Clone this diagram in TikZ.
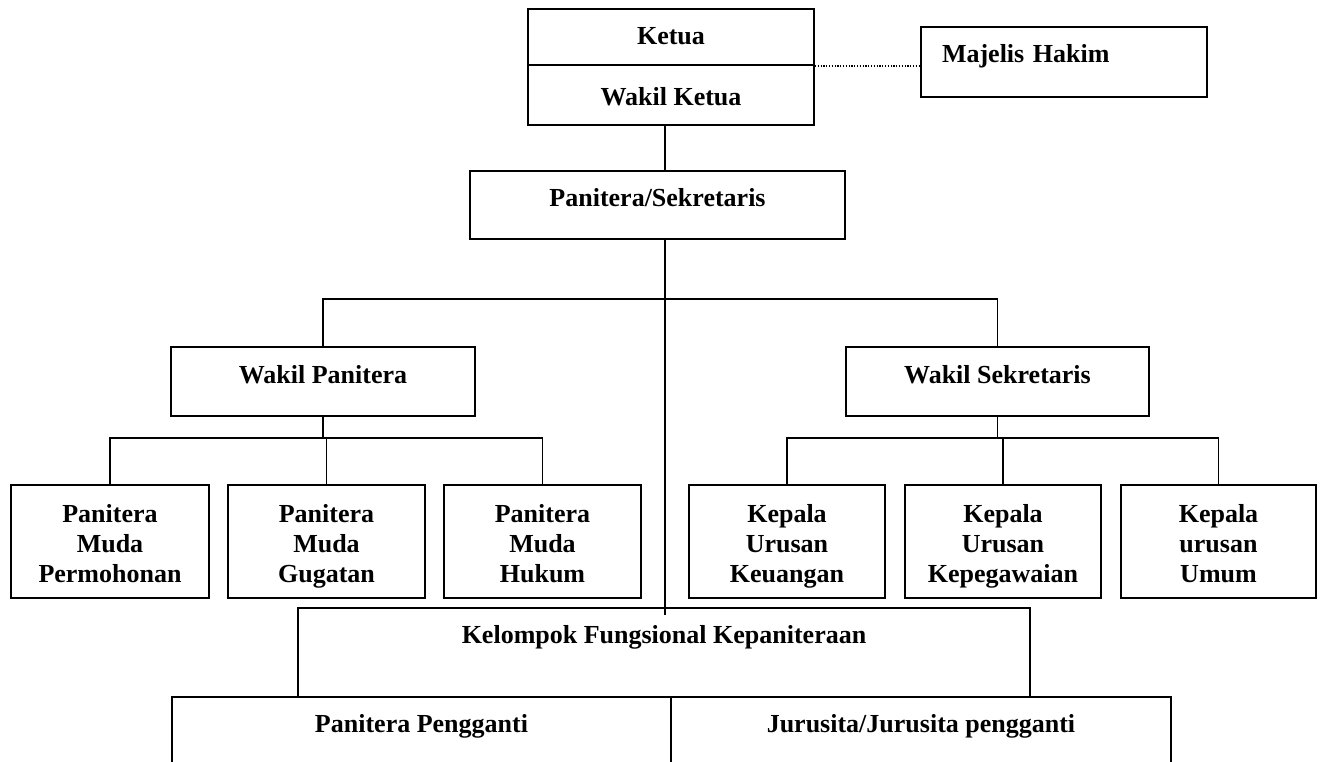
\documentclass[tikz,border=0pt]{standalone}
\usepackage{fontspec}
\setmainfont{Liberation Serif}
\usepackage{tikz}

\begin{document}
\begin{tikzpicture}[x=1pt, y=-1pt, line width=1.8pt,
    unit/.style={draw, rectangle, inner sep=0pt, align=center, font=\bfseries\fontsize{26}{30}\selectfont},
    small/.style={unit, minimum height=113pt, text height=81pt, text depth=0pt},
    loose/.style={line width=1.3pt, dash pattern=on 1.2pt off 1.6pt}]
    \useasboundingbox (0,0) rectangle (1325,762);
    \clip (0,0) rectangle (1325,762);

    % Nodes
    \node[unit, minimum width=286pt, text height=36pt, text depth=20pt] (ketua) at (671,37) {Ketua};
    \node[unit, minimum width=286pt, text height=41pt, text depth=19pt] (wketua) at (671,95) {Wakil Ketua};
    \node[unit, text width=244pt, inner xsep=21pt, align=left, text height=36pt, text depth=34pt] (majelis) at (1064,62) {Majelis Hakim};
    \node[unit, minimum width=375pt, text height=36pt, text depth=32pt] (pansek) at (657.5,205) {Panitera/Sekretaris};

    \node[unit, minimum width=304pt, text height=36pt, text depth=33pt] (wpan) at (323,381.5) {Wakil Panitera};
    \node[unit, minimum width=303pt, text height=36pt, text depth=33pt] (wsek) at (997.5,381.5) {Wakil Sekretaris};

    \node[small, minimum width=198pt] (pmp) at (110,541.5) {Panitera\\Muda\\Permohonan};
    \node[small, minimum width=197pt] (pmg) at (326.5,541.5) {Panitera\\Muda\\Gugatan};
    \node[small, minimum width=197pt] (pmh) at (542.5,541.5) {Panitera\\Muda\\Hukum};
    \node[small, minimum width=196pt] (kuk) at (787,541.5) {Kepala\\Urusan\\Keuangan};
    \node[small, minimum width=196pt] (kup) at (1003,541.5) {Kepala\\Urusan\\Kepegawaian};
    \node[small, minimum width=195pt] (kuu) at (1218.5,541.5) {Kepala\\urusan\\Umum};

    \node[unit, minimum width=732pt, text height=35pt, text depth=54pt] (kelompok) at (664,652.5) {Kelompok Fungsional Kepaniteraan};
    \node[unit, minimum width=499pt, text height=35pt, text depth=65pt] (pengganti) at (421.5,747) {Panitera Pengganti};
    \node[unit, minimum width=500pt, text height=35pt, text depth=65pt] (jurusita) at (921,747) {Jurusita/Jurusita pengganti};

    \coordinate (spine) at (665,0);
    \coordinate (tbus) at (665,299);
    \coordinate (lbus) at (0,438);

    % Edges
    \draw[loose] (ketua.south east) -- (ketua.south east -| majelis.west);
    \draw (wketua.south -| spine) -- (pansek.north -| spine);
    \draw (pansek.south -| spine) -- (kelompok.north -| spine) -- ++(0,8);
    \draw (wpan.north) |- (tbus) -| (wsek.north);

    \draw (wpan.south) -- (wpan.south |- lbus);
    \draw (pmp.north) |- (pmh.north |- lbus) -- (pmh.north);
    \draw (pmg.north) -- (pmg.north |- lbus);

    \draw (wsek.south) -- (wsek.south |- lbus);
    \draw (kuk.north) |- (kuu.north |- lbus) -- (kuu.north);
    \draw (kup.north) -- (kup.north |- lbus);
\end{tikzpicture}
\end{document}
